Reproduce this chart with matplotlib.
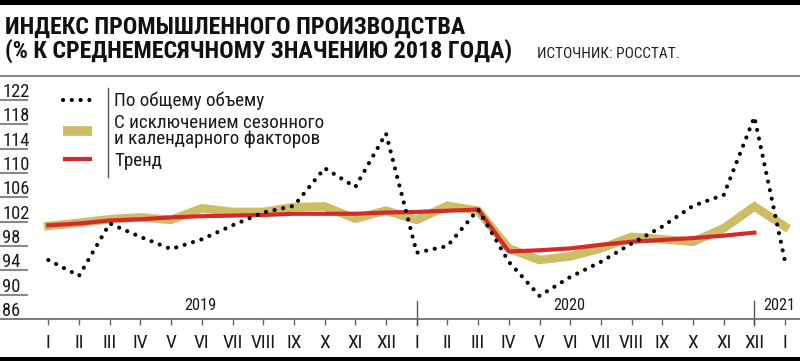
import matplotlib
matplotlib.use("Agg")
import matplotlib.pyplot as plt
from matplotlib.lines import Line2D
from matplotlib.patches import Rectangle
import matplotlib.transforms as mtransforms
from matplotlib import font_manager as fm

# pick a narrow sans font if one is installed
_names = {f.name for f in fm.fontManager.ttflist}
_family = None
for cand in ['Liberation Sans Narrow', 'Roboto Condensed', 'Arial Narrow', 'Open Sans Condensed']:
    if cand in _names:
        _family = cand
        break
if _family is None:
    _family = 'Liberation Sans' if 'Liberation Sans' in _names else 'DejaVu Sans'
plt.rcParams['font.family'] = [_family, 'DejaVu Sans']

# ---------------- data ----------------
month_labels = ['I', 'II', 'III', 'IV', 'V', 'VI', 'VII', 'VIII', 'IX', 'X', 'XI', 'XII'] * 2 + ['I']
total_volume = [95.7, 93.1, 101.7, 99.5, 97.5, 99.1, 101.4, 103.5, 104.6, 110.8, 107.7, 116.5,
                96.9, 98.0, 104.0, 95.4, 89.8, 92.9, 95.4, 98.4, 101.2, 104.6, 106.4, 119.2,
                95.4]
seasonal_adj = [101.3, 101.8, 102.4, 102.7, 102.3, 104.2, 103.6, 103.6, 104.4, 104.5, 102.5, 103.8,
                102.3, 104.6, 103.8, 97.6, 95.7, 96.3, 97.6, 99.5, 99.1, 98.7, 100.9, 104.5,
                101.2]
trend = [101.4, 101.7, 102.2, 102.4, 102.7, 102.9, 103.0, 103.1, 103.3, 103.3, 103.3, 103.5,
         103.6, 103.8, 104.0, 97.1, 97.3, 97.6, 98.2, 98.7, 99.0, 99.3, 99.7, 100.2]
y_ticks = [122, 118, 114, 110, 106, 102, 98, 94, 90, 86]
years = ['2019', '2020', '2021']
year_breaks = [12, 23]

title1 = 'ИНДЕКС ПРОМЫШЛЕННОГО ПРОИЗВОДСТВА'
title2 = '(% К СРЕДНЕМЕСЯЧНОМУ ЗНАЧЕНИЮ 2018 ГОДА)'
source = 'ИСТОЧНИК: РОССТАТ.'
legend_labels = ['По общему объему', 'С исключением сезонного\nи календарного факторов', 'Тренд']

GOLD = '#cdbd66'
RED = '#d62a2a'
INK = '#1a1a1a'
W, H = 800, 361

fig = plt.figure(figsize=(8, 3.61), dpi=100)
renderer = fig.canvas.get_renderer()


def size_for(s, target, max_size, weight='normal'):
    """font size that gives the text a given pixel width (capped)"""
    tmp = fig.text(0, 0, s, fontsize=10, fontweight=weight)
    w = tmp.get_window_extent(renderer).width
    tmp.remove()
    return min(max_size, 10 * target / w)


fs_t1 = size_for(title1, 462, 20, 'bold')
fs_t2 = size_for(title2, 506, 20, 'bold')
fs_title = min(fs_t1, fs_t2)
fs_src = size_for(source, 144, 13)
fs_leg = min(15, 1.12 * min(size_for('По общему объему', 136, 15),
                            size_for('С исключением сезонного', 188, 15)))
fs_y = size_for('122', 27, 14)
fs_year = size_for('2019', 32, 14)
fs_month = size_for('VIII', 25, 16)

ax = fig.add_axes([0, (H - 319) / H, 1, (319 - 80) / H])
x = list(range(len(month_labels)))

ax.plot(x, seasonal_adj, color=GOLD, lw=6.2, solid_joinstyle='miter', zorder=2)
ax.plot(x[:len(trend)], trend, color=RED, lw=3.0, zorder=3)
ax.plot(x, total_volume, color='black', lw=3.0, dashes=(0.01, 2.1),
        dash_capstyle='round', zorder=4)

ax.set_xlim(-48.3 / 30.7, (800 - 48.3) / 30.7)
ax.set_ylim(86, 122 + 20 / 6.08)

for s in ['top', 'left', 'right']:
    ax.spines[s].set_visible(False)
ax.spines['bottom'].set_color('#666666')
ax.spines['bottom'].set_linewidth(1.2)
ax.set_yticks([])
ax.set_xticks(x)
ax.set_xticklabels(month_labels, fontsize=fs_month, color=INK)
ax.tick_params(axis='x', direction='out', length=4.5, width=1.0, color='#666666', pad=6)

# y labels with short underlines
blend = mtransforms.blended_transform_factory(ax.transAxes, ax.transData)
txt_tr = mtransforms.offset_copy(blend, fig=fig, x=0, y=3, units='dots')
for v in y_ticks:
    ax.text(2 / W, v, str(v), transform=txt_tr, fontsize=fs_y, color=INK,
            ha='left', va='baseline', clip_on=False)
    if v != 86:
        ax.plot([0, 28 / W], [v, v], transform=blend, color='#888888', lw=1.5,
                clip_on=False, solid_capstyle='butt')

# year separators and labels
xblend = mtransforms.blended_transform_factory(ax.transData, fig.transFigure)
for b in year_breaks:
    ax.plot([b, b], [(H - 301) / H, (H - 325) / H], transform=xblend, color='#555555',
            lw=1.0, clip_on=False)
ax.text(4.94, (H - 310) / H, years[0], transform=xblend, fontsize=fs_year, color=INK,
        ha='center', va='baseline')
ax.text(16.98, (H - 310) / H, years[1], transform=xblend, fontsize=fs_year, color=INK,
        ha='center', va='baseline')
fig.text(795 / W, (H - 310) / H, years[2], fontsize=fs_year, color=INK,
         ha='right', va='baseline')

# legend
handles = [Line2D([], [], color='black', lw=3.0, dashes=(0.01, 2.1), dash_capstyle='round'),
           Line2D([], [], color=GOLD, lw=7, solid_capstyle='butt'),
           Line2D([], [], color=RED, lw=3.0, solid_capstyle='butt')]
hl_px, pad_px = 29, 22
leg = ax.legend(handles, legend_labels, loc='upper left', frameon=False,
                bbox_to_anchor=(63 / W, (H - 92) / H), bbox_transform=fig.transFigure,
                prop={'size': fs_leg}, handlelength=hl_px / (fs_leg * 100 / 72),
                handletextpad=pad_px / (fs_leg * 100 / 72), borderpad=0,
                borderaxespad=0, labelspacing=0.17)
for t in leg.get_texts():
    t.set_color(INK)
    t.set_linespacing(0.9)
fig.add_artist(Line2D([107.5 / W, 107.5 / W], [(H - 88) / H, (H - 177) / H],
                      color='#555555', lw=1.0))

# title and decorations
fig.text(5 / W, (H - 34) / H, title1, fontsize=fs_title, fontweight='bold', color='#111111',
         ha='left', va='baseline')
fig.text(5 / W, (H - 58) / H, title2, fontsize=fs_title, fontweight='bold', color='#111111',
         ha='left', va='baseline')
fig.text(537 / W, (H - 58) / H, source, fontsize=fs_src, color='#222222', ha='left',
         va='baseline')
fig.add_artist(Line2D([0, 1], [(H - 76) / H, (H - 76) / H], color='#8a8a8a', lw=1.5))
fig.add_artist(Rectangle((0, (H - 5) / H), 1, 5 / H, transform=fig.transFigure,
                         color='black', lw=0))
fig.add_artist(Rectangle((0, 0), 1, 4 / H, transform=fig.transFigure, color='black', lw=0))

fig.savefig('out.png', dpi=100)
